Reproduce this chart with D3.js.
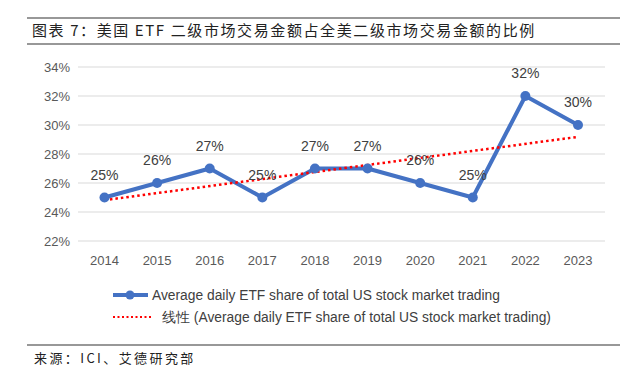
<!DOCTYPE html>
<html lang="zh">
<head>
<meta charset="UTF-8">
<title>ETF share</title>
<script src="https://cdn.jsdelivr.net/npm/d3@7"></script>
<style>
    body { margin: 0; background: #fff; }
    text { font-family: "Liberation Sans", Arial, sans-serif; }
    .cjk { font-family: "Noto Sans CJK SC", sans-serif; }
</style>
</head>
<body>
<div id="chart"></div>
<script>
    const years = ["2014", "2015", "2016", "2017", "2018", "2019", "2020", "2021", "2022", "2023"];
    const shares = [25, 26, 27, 25, 27, 27, 26, 25, 32, 30];
    const yTicks = [22, 24, 26, 28, 30, 32, 34];
    const seriesName = "Average daily ETF share of total US stock market trading";
    const trendName = "线性 (Average daily ETF share of total US stock market trading)";

    const width = 636, height = 380;
    const svg = d3.select("#chart").append("svg")
        .attr("width", width).attr("height", height);

    // header / footer rules
    svg.append("line").attr("x1", 27).attr("x2", 620).attr("y1", 18).attr("y2", 18)
        .attr("stroke", "#333").attr("stroke-width", 1.2);
    svg.append("line").attr("x1", 27).attr("x2", 620).attr("y1", 44).attr("y2", 44)
        .attr("stroke", "#333").attr("stroke-width", 1.2);
    svg.append("line").attr("x1", 27).attr("x2", 620).attr("y1", 345).attr("y2", 345)
        .attr("stroke", "#333").attr("stroke-width", 1.2);

    svg.append("text").attr("class", "cjk").attr("x", 32).attr("y", 36)
        .attr("font-size", 15).attr("letter-spacing", 1.6).attr("fill", "#222")
        .text("图表 7：美国 ETF 二级市场交易金额占全美二级市场交易金额的比例");
    svg.append("text").attr("class", "cjk").attr("x", 34).attr("y", 363)
        .attr("font-size", 13).attr("letter-spacing", 2.4).attr("fill", "#222")
        .text("来源：ICI、艾德研究部");

    const x = d3.scalePoint().domain(years).range([104.5, 578]);
    const y = d3.scaleLinear().domain([22, 34]).range([241, 67]);

    // gridlines
    svg.append("g").selectAll("line").data(yTicks).join("line")
        .attr("x1", 78).attr("x2", 605)
        .attr("y1", d => y(d)).attr("y2", d => y(d))
        .attr("stroke", "#d9d9d9").attr("stroke-width", 1);

    svg.append("g").selectAll("text").data(yTicks).join("text")
        .attr("x", 70).attr("y", d => y(d) + 4.5)
        .attr("text-anchor", "end").attr("font-size", 13).attr("fill", "#595959")
        .text(d => d + "%");

    svg.append("g").selectAll("text").data(years).join("text")
        .attr("x", d => x(d)).attr("y", 265)
        .attr("text-anchor", "middle").attr("font-size", 13).attr("fill", "#595959")
        .text(d => d);

    // linear trend from data
    const n = shares.length;
    const mx = d3.mean(shares, (d, i) => i), my = d3.mean(shares);
    const slope = d3.sum(shares, (d, i) => (i - mx) * (d - my)) / d3.sum(shares, (d, i) => (i - mx) * (i - mx));
    const icpt = my - slope * mx;

    const line = d3.line().x((d, i) => x(years[i])).y(d => y(d));

    svg.append("path").datum(shares).attr("d", line)
        .attr("fill", "none").attr("stroke", "#4472C4").attr("stroke-width", 4)
        .attr("stroke-linejoin", "round");

    svg.append("line")
        .attr("x1", x(years[0])).attr("y1", y(icpt))
        .attr("x2", x(years[n - 1])).attr("y2", y(icpt + slope * (n - 1)))
        .attr("stroke", "#FF0000").attr("stroke-width", 2.5)
        .attr("stroke-dasharray", "2.5,3");

    svg.append("g").selectAll("circle").data(shares).join("circle")
        .attr("cx", (d, i) => x(years[i])).attr("cy", d => y(d)).attr("r", 5)
        .attr("fill", "#4472C4");

    svg.append("g").selectAll("text").data(shares).join("text")
        .attr("x", (d, i) => x(years[i])).attr("y", d => y(d) - 18)
        .attr("text-anchor", "middle").attr("font-size", 14).attr("fill", "#404040")
        .text(d => d + "%");

    // legend
    const lg = svg.append("g");
    lg.append("line").attr("x1", 113).attr("x2", 148).attr("y1", 295).attr("y2", 295)
        .attr("stroke", "#4472C4").attr("stroke-width", 4);
    lg.append("circle").attr("cx", 130).attr("cy", 295).attr("r", 4.5).attr("fill", "#4472C4");
    lg.append("text").attr("x", 152).attr("y", 300).attr("font-size", 13.8).attr("fill", "#404040")
        .text(seriesName);
    lg.append("line").attr("x1", 113).attr("x2", 153).attr("y1", 317).attr("y2", 317)
        .attr("stroke", "#FF0000").attr("stroke-width", 2).attr("stroke-dasharray", "2,2.5");
    lg.append("text").attr("x", 162).attr("y", 322).attr("font-size", 13.8).attr("fill", "#404040")
        .text(trendName);
</script>
</body>
</html>
